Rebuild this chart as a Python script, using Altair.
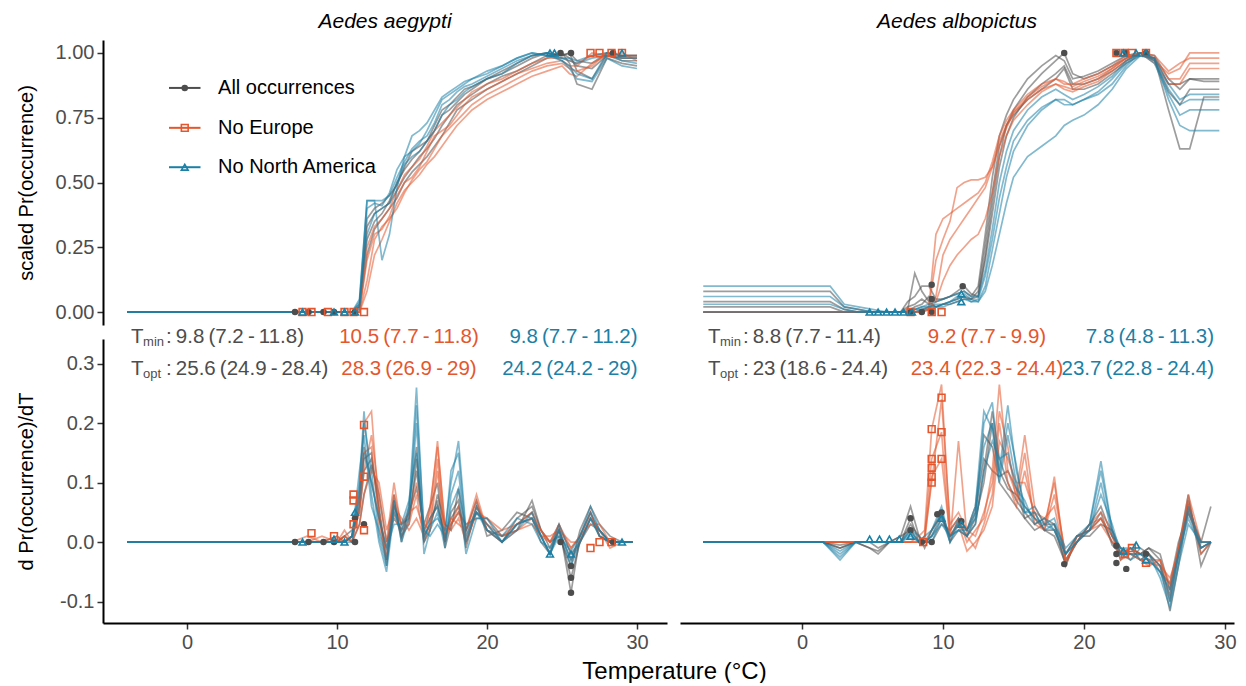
import altair as alt
import pandas as pd

FONT = "Liberation Sans"
GROUPS = ["All occurrences", "No Europe", "No North America"]
COLORS = ["#4D4D4D", "#E4572E", "#1B80A6"]
SHAPES = ["circle", "square", "triangle-up"]
SPECIES = ["Aedes aegypti", "Aedes albopictus"]

# ---------------- Aedes aegypti : scaled Pr(occurrence) ----------------
aeg_T = [-4, 7, 8, 9, 10, 10.5, 11, 11.5, 12, 12.5, 13, 13.5, 14, 14.5, 15, 15.5, 16, 16.5,
         17, 17.5, 18, 18.5, 19, 20, 21, 22, 23, 24, 25, 25.5, 26, 27, 28, 29, 30]
aeg_top_all = [
    [0, 0, 0, 0, 0, 0, 0, 0.02, 0.33, 0.38, 0.40, 0.42, 0.47, 0.52, 0.56, 0.60, 0.63, 0.67, 0.72, 0.76, 0.80, 0.82, 0.84, 0.88, 0.91, 0.93, 0.96, 0.99, 1.00, 0.98, 0.95, 0.94, 0.99, 0.98, 0.98],
    [0, 0, 0, 0, 0, 0, 0, 0.03, 0.28, 0.35, 0.38, 0.43, 0.50, 0.55, 0.59, 0.62, 0.66, 0.70, 0.76, 0.78, 0.81, 0.84, 0.86, 0.90, 0.92, 0.95, 0.98, 1.00, 0.99, 1.00, 0.93, 0.90, 0.99, 0.97, 0.97],
    [0, 0, 0, 0, 0, 0, 0, 0.01, 0.22, 0.32, 0.36, 0.40, 0.44, 0.50, 0.54, 0.57, 0.60, 0.64, 0.68, 0.73, 0.78, 0.80, 0.82, 0.86, 0.89, 0.92, 0.95, 0.98, 1.00, 0.96, 0.88, 0.86, 0.98, 0.96, 0.95],
    [0, 0, 0, 0, 0, 0, 0, 0.02, 0.36, 0.40, 0.42, 0.45, 0.49, 0.56, 0.62, 0.64, 0.66, 0.72, 0.78, 0.80, 0.83, 0.86, 0.87, 0.90, 0.93, 0.96, 0.99, 1.00, 0.99, 1.00, 0.97, 0.96, 1.00, 0.99, 0.99],
]
aeg_top_noeu = [
    [0, 0, 0, 0, 0, 0, 0, 0, 0.12, 0.28, 0.33, 0.36, 0.40, 0.46, 0.51, 0.55, 0.58, 0.63, 0.68, 0.71, 0.74, 0.77, 0.80, 0.84, 0.87, 0.90, 0.93, 0.95, 0.96, 0.94, 0.93, 0.95, 1.00, 0.99, 0.99],
    [0, 0, 0, 0, 0, 0, 0, 0, 0.20, 0.30, 0.32, 0.37, 0.45, 0.50, 0.52, 0.56, 0.62, 0.68, 0.70, 0.72, 0.76, 0.80, 0.83, 0.86, 0.89, 0.92, 0.94, 0.96, 0.97, 0.95, 0.95, 1.00, 0.99, 0.98, 0.98],
    [0, 0, 0, 0, 0, 0, 0, 0, 0.08, 0.22, 0.28, 0.35, 0.42, 0.47, 0.50, 0.53, 0.57, 0.60, 0.64, 0.68, 0.72, 0.75, 0.78, 0.82, 0.85, 0.88, 0.91, 0.93, 0.95, 0.92, 0.91, 0.96, 0.99, 1.00, 0.97],
    [0, 0, 0, 0, 0, 0, 0, 0.01, 0.25, 0.33, 0.36, 0.40, 0.47, 0.53, 0.56, 0.59, 0.64, 0.70, 0.73, 0.76, 0.79, 0.82, 0.85, 0.88, 0.90, 0.93, 0.96, 0.98, 0.98, 0.97, 0.96, 0.99, 1.00, 0.99, 0.99],
]
aeg_top_nona = [
    [0, 0, 0, 0, 0, 0, 0, 0.04, 0.43, 0.43, 0.43, 0.45, 0.52, 0.58, 0.63, 0.66, 0.68, 0.73, 0.80, 0.82, 0.85, 0.87, 0.88, 0.91, 0.94, 0.97, 0.99, 1.00, 0.98, 0.97, 0.96, 0.98, 0.99, 0.98, 0.98],
    [0, 0, 0, 0, 0, 0, 0, 0.03, 0.40, 0.42, 0.41, 0.46, 0.55, 0.60, 0.62, 0.65, 0.70, 0.76, 0.82, 0.84, 0.86, 0.88, 0.90, 0.93, 0.95, 0.98, 1.00, 0.99, 0.97, 0.95, 0.92, 0.90, 1.00, 0.97, 0.96],
    [0, 0, 0, 0, 0, 0, 0, 0.02, 0.30, 0.38, 0.40, 0.42, 0.50, 0.57, 0.60, 0.62, 0.66, 0.70, 0.76, 0.80, 0.82, 0.85, 0.87, 0.90, 0.92, 0.96, 0.99, 1.00, 0.97, 0.94, 0.90, 0.89, 0.98, 0.95, 0.94],
    [0, 0, 0, 0, 0, 0, 0, 0.05, 0.43, 0.43, 0.20, 0.30, 0.48, 0.60, 0.68, 0.70, 0.73, 0.78, 0.83, 0.85, 0.87, 0.89, 0.90, 0.92, 0.95, 0.98, 1.00, 0.99, 0.98, 0.98, 0.97, 0.99, 1.00, 0.99, 0.99],
]
aeg_top_pts_T = [[7.2, 8.1, 9.1, 9.8, 11.2, 24.9, 25.6, 28.4],
                 [7.7, 8.3, 9.4, 10.5, 11.1, 11.8, 26.9, 27.5, 28.3, 29.0],
                 [7.7, 9.8, 10.5, 11.2, 24.2, 24.5, 29.0]]
aeg_top_pts_v = [[0, 0, 0, 0, 0, 1, 1, 1],
                 [0, 0, 0, 0, 0, 0, 1, 1, 1, 1],
                 [0, 0, 0, 0, 1, 1, 1]]

# ---------------- Aedes aegypti : derivative ----------------
aeg_Td = [-4, 7, 8, 9, 10, 10.5, 11, 11.5, 11.8, 12.3, 12.8, 13.3, 13.8, 14.3, 14.8, 15.3, 15.8, 16.2, 16.7,
          17.2, 17.6, 18.1, 18.6, 19.3, 20, 21, 22, 23, 23.6, 24.2, 24.8, 25.6, 26.2, 26.9, 27.5, 28.2, 29, 29.7]
aeg_bot_all = [
    [0, 0, 0, 0, 0, 0.01, 0.02, 0.05, 0.12, 0.14, 0.06, -0.03, 0.06, 0.03, 0.04, 0.12, 0.02, 0.04, 0.06, 0.01, 0.04, 0.06, 0.0, 0.05, 0.03, 0.0, 0.04, 0.06, 0.02, -0.01, 0.02, -0.06, 0.0, 0.04, 0.02, 0.0, 0.0, 0.0],
    [0, 0, 0, 0, 0.01, 0.0, 0.01, 0.08, 0.16, 0.10, 0.04, -0.01, 0.08, 0.0, 0.06, 0.16, 0.0, 0.02, 0.08, 0.03, 0.02, 0.09, 0.02, 0.07, 0.01, 0.02, 0.05, 0.04, 0.0, -0.02, 0.03, -0.085, 0.01, 0.05, 0.01, 0.0, 0.0, 0.0],
    [0, 0, 0, 0, 0, 0.01, 0.0, 0.03, 0.08, 0.13, 0.08, 0.0, 0.04, 0.02, 0.05, 0.09, 0.03, 0.06, 0.1, -0.01, 0.03, 0.05, 0.03, 0.04, 0.04, 0.01, 0.02, 0.07, 0.02, 0.0, 0.01, -0.04, 0.02, 0.06, 0.03, 0.01, 0.0, 0.0],
    [0, 0, 0, 0, 0, 0, 0.01, 0.06, 0.14, 0.15, 0.05, -0.04, 0.07, 0.01, 0.03, 0.14, 0.01, 0.03, 0.07, 0.0, 0.05, 0.07, -0.01, 0.06, 0.02, 0.0, 0.03, 0.05, 0.01, -0.02, 0.02, -0.03, 0.0, 0.03, 0.02, 0.0, 0.0, 0.0],
]
aeg_bot_noeu = [
    [0, 0, 0, 0.01, 0.0, 0.02, 0.0, 0.08, 0.2, 0.22, 0.05, -0.02, 0.08, 0.03, 0.05, 0.06, 0.02, 0.05, 0.17, 0.02, 0.03, 0.05, 0.01, 0.06, 0.03, 0.01, 0.03, 0.04, 0.02, 0.0, 0.03, -0.01, 0.01, 0.05, 0.01, 0.0, 0.0, 0.0],
    [0, 0, 0, 0, 0.01, 0.0, 0.01, 0.05, 0.12, 0.18, 0.08, 0.0, 0.1, 0.02, 0.03, 0.08, 0.0, 0.03, 0.14, 0.0, 0.04, 0.03, 0.02, 0.08, 0.02, 0.0, 0.02, 0.03, 0.01, 0.01, 0.02, 0.0, 0.0, 0.04, 0.02, -0.01, 0.0, 0.0],
    [0, 0, 0.01, 0, 0, 0.01, 0.0, 0.03, 0.08, 0.12, 0.1, 0.02, 0.06, 0.04, 0.02, 0.04, 0.01, 0.06, 0.16, 0.03, 0.02, 0.04, 0.0, 0.05, 0.04, 0.02, 0.03, 0.05, 0.02, 0.0, 0.02, -0.01, 0.01, 0.03, 0.03, 0.0, 0.0, 0.0],
    [0, 0, 0, 0, 0, 0.01, 0.0, 0.06, 0.15, 0.16, 0.03, -0.03, 0.05, 0.01, 0.04, 0.1, 0.03, 0.02, 0.12, 0.01, 0.03, 0.06, 0.02, 0.07, 0.02, 0.01, 0.02, 0.04, 0.01, 0.0, 0.03, -0.02, 0.0, 0.05, 0.01, 0.0, 0.0, 0.0],
]
aeg_bot_nona = [
    [0, 0, 0, 0, 0, 0, 0.01, 0.1, 0.22, 0.08, 0.0, -0.05, 0.05, 0.02, 0.06, 0.26, 0.01, 0.03, 0.04, 0.02, 0.1, 0.17, 0.02, 0.05, 0.03, 0.0, 0.03, 0.04, 0.01, -0.02, 0.02, -0.03, 0.01, 0.06, 0.02, 0.0, 0.0, 0.0],
    [0, 0, 0, 0, 0, 0, 0.01, 0.12, 0.18, 0.06, 0.02, -0.03, 0.07, 0.0, 0.04, 0.2, -0.02, 0.02, 0.05, -0.01, 0.08, 0.12, 0.0, 0.06, 0.02, 0.01, 0.04, 0.03, 0.0, -0.01, 0.03, -0.02, 0.0, 0.04, 0.01, 0.0, 0.0, 0.0],
    [0, 0, 0, 0, 0, 0, 0.0, 0.07, 0.15, 0.1, 0.04, -0.01, 0.03, 0.03, 0.07, 0.15, 0.0, 0.04, 0.06, 0.0, 0.06, 0.09, -0.02, 0.04, 0.04, 0.0, 0.02, 0.05, 0.01, -0.02, 0.01, -0.015, 0.01, 0.05, 0.02, 0.0, 0.0, 0.0],
    [0, 0, 0, 0, 0, 0, 0.01, 0.09, 0.2, 0.12, 0.01, -0.04, 0.06, 0.01, 0.05, 0.23, 0.02, 0.01, 0.03, 0.01, 0.12, 0.15, 0.01, 0.05, 0.02, 0.0, 0.03, 0.04, 0.01, -0.02, 0.02, -0.04, 0.0, 0.04, 0.01, 0.0, 0.0, 0.0],
]
aeg_bot_pts_T = [[7.2, 8.1, 9.1, 9.8, 11.2, 11.2, 11.8, 24.9, 25.6, 25.6, 25.6, 28.4],
                 [8.3, 9.8, 11.1, 11.1, 11.1, 11.8, 11.8, 11.8, 26.9, 27.5, 28.3],
                 [7.7, 9.8, 10.5, 11.2, 24.2, 25.6, 29.0]]
aeg_bot_pts_v = [[0, 0, 0, 0, 0.0, 0.04, 0.03, 0.0, -0.04, -0.06, -0.085, 0.0],
                 [0.015, 0.01, 0.08, 0.07, 0.03, 0.197, 0.11, 0.02, -0.01, 0.0, 0.0],
                 [0, 0.005, 0.0, 0.05, -0.02, -0.02, 0.0]]

# ---------------- Aedes albopictus : scaled Pr(occurrence) ----------------
alb_T = [-7, 2, 3, 4, 5, 6, 7, 7.5, 8, 8.5, 9, 9.5, 10, 10.5, 11, 11.5, 12, 12.5, 13, 13.5, 14, 14.5,
         15, 16, 17, 18, 18.6, 19.2, 20, 21, 22, 23, 24, 25, 26, 26.8, 27.5, 28.5, 29.6]
alb_top_all = [
    [0.08, 0.08, 0.02, 0.01, 0.0, 0.0, 0.0, 0.04, 0.06, 0.10, 0.10, 0.05, 0.05, 0.06, 0.08, 0.10, 0.07, 0.06, 0.22, 0.42, 0.60, 0.72, 0.78, 0.86, 0.92, 0.97, 1.00, 0.92, 0.90, 0.92, 0.95, 0.98, 1.00, 0.97, 0.85, 0.80, 0.86, 0.86, 0.86],
    [0.0, 0.0, 0.0, 0.0, 0.0, 0.0, 0.0, 0.02, 0.03, 0.05, 0.03, 0.02, 0.03, 0.04, 0.05, 0.06, 0.05, 0.06, 0.20, 0.38, 0.56, 0.68, 0.75, 0.83, 0.88, 0.92, 0.95, 0.88, 0.88, 0.90, 0.93, 0.97, 1.00, 0.98, 0.88, 0.88, 0.90, 0.89, 0.89],
    [0.04, 0.04, 0.01, 0.0, 0.0, 0.0, 0.0, 0.01, 0.15, 0.08, 0.04, 0.02, 0.03, 0.03, 0.04, 0.05, 0.05, 0.08, 0.26, 0.46, 0.64, 0.72, 0.76, 0.82, 0.86, 0.90, 0.94, 0.86, 0.86, 0.88, 0.92, 0.96, 0.99, 0.98, 0.78, 0.63, 0.63, 0.83, 0.83],
    [0.02, 0.02, 0.0, 0.0, 0.0, 0.0, 0.0, 0.0, 0.02, 0.03, 0.06, 0.04, 0.05, 0.06, 0.07, 0.08, 0.06, 0.10, 0.30, 0.52, 0.68, 0.76, 0.82, 0.90, 0.95, 0.99, 0.97, 0.90, 0.91, 0.93, 0.96, 0.99, 1.00, 0.99, 0.90, 0.86, 0.90, 0.90, 0.90],
]
alb_top_noeu = [
    [0, 0, 0, 0, 0, 0, 0, 0.0, 0.0, 0.01, 0.02, 0.30, 0.36, 0.38, 0.40, 0.42, 0.44, 0.46, 0.50, 0.58, 0.68, 0.74, 0.78, 0.84, 0.88, 0.90, 0.88, 0.88, 0.90, 0.92, 0.95, 0.99, 1.00, 0.97, 0.92, 0.94, 1.00, 1.00, 1.00],
    [0, 0, 0, 0, 0, 0, 0, 0.0, 0.0, 0.0, 0.01, 0.06, 0.22, 0.28, 0.32, 0.36, 0.40, 0.44, 0.48, 0.56, 0.66, 0.72, 0.77, 0.82, 0.86, 0.88, 0.87, 0.86, 0.88, 0.90, 0.94, 0.98, 1.00, 0.98, 0.90, 0.90, 0.96, 0.96, 0.96],
    [0, 0, 0, 0, 0, 0, 0, 0.0, 0.0, 0.0, 0.01, 0.04, 0.12, 0.18, 0.22, 0.25, 0.28, 0.30, 0.36, 0.46, 0.60, 0.68, 0.74, 0.80, 0.85, 0.88, 0.86, 0.85, 0.87, 0.89, 0.93, 0.97, 1.00, 0.96, 0.88, 0.88, 0.94, 0.94, 0.94],
    [0, 0, 0, 0, 0, 0, 0, 0.0, 0.0, 0.0, 0.02, 0.20, 0.28, 0.35, 0.48, 0.50, 0.51, 0.51, 0.52, 0.56, 0.64, 0.71, 0.77, 0.83, 0.87, 0.90, 0.89, 0.87, 0.89, 0.91, 0.94, 0.98, 1.00, 0.99, 0.93, 0.96, 0.98, 0.98, 0.98],
]
alb_top_nona = [
    [0.10, 0.10, 0.03, 0.02, 0.01, 0.0, 0.0, 0.0, 0.01, 0.02, 0.02, 0.03, 0.03, 0.04, 0.06, 0.07, 0.05, 0.04, 0.10, 0.24, 0.38, 0.52, 0.62, 0.72, 0.78, 0.82, 0.82, 0.80, 0.82, 0.85, 0.90, 0.96, 1.00, 0.96, 0.84, 0.76, 0.78, 0.78, 0.78],
    [0.06, 0.06, 0.02, 0.01, 0.0, 0.0, 0.0, 0.0, 0.01, 0.01, 0.02, 0.02, 0.03, 0.04, 0.05, 0.06, 0.04, 0.05, 0.14, 0.28, 0.44, 0.56, 0.66, 0.74, 0.79, 0.82, 0.80, 0.80, 0.82, 0.84, 0.88, 0.95, 1.00, 0.97, 0.86, 0.80, 0.82, 0.82, 0.82],
    [0.0, 0.0, 0.0, 0.0, 0.0, 0.0, 0.0, 0.0, 0.0, 0.01, 0.01, 0.02, 0.02, 0.03, 0.04, 0.05, 0.04, 0.04, 0.08, 0.18, 0.30, 0.42, 0.52, 0.60, 0.64, 0.68, 0.72, 0.74, 0.76, 0.80, 0.86, 0.94, 0.99, 0.98, 0.82, 0.72, 0.70, 0.70, 0.70],
    [0.03, 0.03, 0.01, 0.0, 0.0, 0.0, 0.0, 0.0, 0.01, 0.02, 0.03, 0.04, 0.05, 0.06, 0.07, 0.08, 0.06, 0.06, 0.16, 0.32, 0.50, 0.62, 0.70, 0.78, 0.83, 0.86, 0.84, 0.82, 0.84, 0.87, 0.91, 0.97, 1.00, 0.98, 0.88, 0.82, 0.84, 0.84, 0.84],
]
alb_top_pts_T = [[7.7, 8.5, 9.2, 9.2, 9.2, 11.4, 18.6, 22.3, 23.0, 24.4],
                 [7.7, 9.2, 9.9, 22.3, 22.9, 23.4, 24.4],
                 [4.8, 5.4, 6.0, 6.6, 7.2, 7.8, 11.3, 11.3, 22.8, 23.7, 24.4]]
alb_top_pts_v = [[0, 0, 0, 0.05, 0.105, 0.10, 1.0, 1.0, 1.0, 1.0],
                 [0, 0, 0, 1, 1, 1, 1],
                 [0, 0, 0, 0, 0, 0, 0.04, 0.07, 1, 1, 1]]

# ---------------- Aedes albopictus : derivative ----------------
alb_Td = [-7, 1.5, 2.7, 3.8, 4.8, 5.4, 6.2, 7, 7.7, 8.3, 8.7, 9.2, 9.9, 10.5, 11.1, 11.7, 12.3, 12.9, 13.5, 14.0,
          14.6, 15.2, 15.8, 16.5, 17.2, 17.9, 18.7, 19.5, 20.4, 21.2, 22.0, 22.6, 23.3, 24.0, 24.6, 25.4, 26.1,
          26.7, 27.4, 28.3, 29.0]
alb_bot_all = [
    [0, 0, -0.01, 0, -0.01, -0.02, 0, 0.01, 0.06, 0.01, -0.01, 0.02, 0.05, 0.0, 0.02, 0.01, 0.03, 0.12, 0.22, 0.14, 0.1, 0.07, 0.05, 0.03, 0.04, 0.03, -0.04, 0.01, 0.02, 0.04, 0.0, -0.02, -0.01, -0.02, -0.01, -0.03, -0.1, -0.02, 0.07, -0.02, 0.0],
    [0, 0, -0.005, 0, 0, -0.01, 0, 0.0, 0.04, 0.0, 0.0, 0.01, 0.04, 0.01, 0.03, 0.02, 0.06, 0.18, 0.16, 0.1, 0.08, 0.06, 0.04, 0.05, 0.02, 0.02, -0.03, 0.0, 0.03, 0.06, 0.01, -0.01, -0.02, -0.03, -0.02, -0.04, -0.116, -0.04, 0.06, 0.0, 0.06],
    [0, 0, -0.01, 0, -0.01, -0.015, 0, 0.01, 0.02, 0.0, 0.0, 0.0, 0.03, 0.02, 0.04, 0.02, 0.05, 0.14, 0.12, 0.11, 0.12, 0.09, 0.04, 0.02, 0.03, 0.03, -0.02, 0.01, 0.01, 0.03, 0.02, -0.03, -0.01, -0.02, -0.01, -0.02, -0.08, -0.01, 0.08, -0.04, 0.0],
    [0, 0, 0, 0, 0, 0, 0, 0.0, 0.03, 0.01, 0.0, 0.02, 0.045, 0.01, 0.035, 0.01, 0.04, 0.1, 0.2, 0.12, 0.09, 0.08, 0.06, 0.04, 0.02, 0.01, -0.035, 0.0, 0.02, 0.05, -0.005, -0.02, -0.03, -0.01, -0.02, -0.05, -0.07, 0.0, 0.05, -0.01, 0.0],
]
alb_bot_noeu = [
    [0, 0, 0, 0, 0, 0, 0, 0, 0.0, 0.01, 0.02, 0.19, 0.265, 0.02, 0.04, 0.0, 0.02, 0.04, 0.12, 0.265, 0.12, 0.08, 0.18, 0.06, 0.03, 0.1, -0.03, 0.0, 0.03, 0.04, 0.01, -0.02, -0.01, -0.03, -0.035, -0.04, -0.09, -0.02, 0.08, 0.0, 0.0],
    [0, 0, 0, 0, 0, 0, 0, 0, 0.0, 0.0, 0.01, 0.14, 0.185, 0.0, 0.17, 0.01, -0.01, 0.03, 0.08, 0.2, 0.1, 0.06, 0.12, 0.04, 0.02, 0.08, -0.02, 0.01, 0.02, 0.03, 0.0, -0.01, -0.02, -0.02, -0.03, -0.03, -0.07, -0.01, 0.06, -0.01, 0.0],
    [0, 0, 0, 0, 0, 0, 0, 0, 0.0, 0.0, 0.0, 0.11, 0.14, 0.01, 0.03, -0.015, 0.0, 0.02, 0.06, 0.17, 0.14, 0.1, 0.1, 0.05, 0.04, 0.06, -0.03, 0.0, 0.03, 0.05, 0.02, -0.02, -0.01, -0.02, -0.02, -0.04, -0.06, -0.02, 0.05, 0.0, 0.0],
    [0, 0, 0, 0, 0, 0, 0, 0, 0.0, 0.0, 0.01, 0.1, 0.24, 0.03, 0.05, 0.02, 0.01, 0.05, 0.1, 0.22, 0.16, 0.07, 0.15, 0.03, 0.02, 0.11, -0.04, 0.01, 0.02, 0.04, 0.01, -0.03, -0.02, -0.03, -0.04, -0.03, -0.08, -0.01, 0.07, -0.02, 0.0],
]
alb_bot_nona = [
    [0, 0, -0.03, 0, 0, 0, 0, 0.0, 0.02, 0.01, 0.0, 0.01, 0.05, 0.01, 0.02, 0.02, 0.04, 0.2, 0.235, 0.12, 0.23, 0.12, 0.06, 0.04, 0.03, 0.02, -0.02, 0.0, 0.03, 0.136, 0.02, -0.02, -0.02, -0.02, -0.03, -0.05, -0.1, -0.03, 0.05, 0.0, 0.0],
    [0, 0, -0.02, 0, 0, 0, 0, 0.0, 0.01, 0.0, 0.0, 0.0, 0.04, 0.0, 0.03, 0.01, 0.05, 0.16, 0.2, 0.1, 0.18, 0.1, 0.05, 0.05, 0.02, 0.03, -0.01, 0.01, 0.02, 0.1, 0.01, -0.01, -0.01, -0.03, -0.02, -0.04, -0.09, -0.02, 0.04, -0.01, 0.0],
    [0, 0, -0.025, 0, 0, 0, 0, 0.0, 0.015, 0.0, 0.0, 0.01, 0.03, 0.01, 0.02, 0.01, 0.03, 0.12, 0.17, 0.14, 0.15, 0.09, 0.07, 0.03, 0.04, 0.02, -0.02, 0.0, 0.02, 0.08, 0.03, -0.02, -0.02, -0.02, -0.02, -0.06, -0.11, -0.04, 0.03, 0.0, 0.0],
    [0, 0, -0.015, 0, 0, 0, 0, 0.0, 0.02, 0.0, 0.01, 0.02, 0.06, 0.0, 0.04, 0.02, 0.06, 0.22, 0.19, 0.11, 0.2, 0.13, 0.05, 0.06, 0.03, 0.04, -0.02, 0.01, 0.03, 0.12, 0.02, -0.01, -0.03, -0.02, -0.03, -0.05, -0.08, -0.02, 0.06, -0.01, 0.0],
]
alb_bot_pts_T = [[7.7, 7.7, 8.5, 9.2, 9.6, 9.9, 11.3, 18.6, 22.3, 22.3, 22.3, 23.0, 24.4],
                 [8.6, 9.2, 9.2, 9.2, 9.2, 9.2, 9.9, 9.9, 9.9, 22.9, 23.4, 24.4],
                 [4.8, 5.5, 6.2, 6.9, 7.7, 9.9, 11.3, 22.8, 23.7, 24.4]]
alb_bot_pts_v = [[0.04, 0.02, 0.0, 0.0, 0.047, 0.05, 0.035, -0.037, -0.006, -0.02, -0.035, -0.045, -0.02],
                 [0.0, 0.19, 0.14, 0.125, 0.11, 0.10, 0.243, 0.185, 0.14, -0.02, -0.01, -0.035],
                 [0.005, 0.005, 0.005, 0.005, 0.01, 0.04, 0.03, -0.015, -0.005, -0.03]]

# ---------------- annotation texts ----------------
SUBS = ["min", "opt"]
TS = "\u2009"
aeg_tmin_text = [f":{TS}9.8{TS}(7.2{TS}-{TS}11.8)", f"10.5{TS}(7.7{TS}-{TS}11.8)", f"9.8{TS}(7.7{TS}-{TS}11.2)"]
aeg_topt_text = [f":{TS}25.6{TS}(24.9{TS}-{TS}28.4)", f"28.3{TS}(26.9{TS}-{TS}29)", f"24.2{TS}(24.2{TS}-{TS}29)"]
alb_tmin_text = [f":{TS}8.8{TS}(7.7{TS}-{TS}11.4)", f"9.2{TS}(7.7{TS}-{TS}9.9)", f"7.8{TS}(4.8{TS}-{TS}11.3)"]
alb_topt_text = [f":{TS}23{TS}(18.6{TS}-{TS}24.4)", f"23.4{TS}(22.3{TS}-{TS}24.4)", f"23.7{TS}(22.8{TS}-{TS}24.4)"]
ANN_Y = [0.335, 0.281]                 # baselines of the T_min and T_opt rows
aeg_ann_x = [-3.73, 14.8, 30.04]       # grey left / orange centre / blue right anchors
alb_ann_x = [-6.67, 13.12, 29.22]

# legend rows (drawn inside the top-left panel)
leg_y = [0.865, 0.711, 0.559]
leg_x = [-1.2, 0.9, -0.15, 2.07]       # line start, line end, symbol, label


def lines_df(T, sets):
    rows = []
    for g, lines in zip(GROUPS, sets):
        for i, ys in enumerate(lines):
            assert len(ys) == len(T), (g, i, len(ys), len(T))
            for t, v in zip(T, ys):
                rows.append({"T": t, "v": v, "group": g, "line": f"{g}|{i}"})
    return pd.DataFrame(rows)


def pts_df(Ts, Vs):
    rows = []
    for g, ts, vs in zip(GROUPS, Ts, Vs):
        assert len(ts) == len(vs)
        for t, v in zip(ts, vs):
            rows.append({"T": t, "v": v, "group": g})
    return pd.DataFrame(rows)


color_enc = alt.Color("group:N", scale=alt.Scale(domain=GROUPS, range=COLORS), legend=None)
shape_enc = alt.Shape("group:N", scale=alt.Scale(domain=GROUPS, range=SHAPES), legend=None)

AX = dict(labelFont=FONT, labelFontSize=20, labelColor="#4D4D4D", tickSize=6, tickWidth=1.5,
          tickColor="#333333", domainColor="black", domainWidth=2, grid=False, labelPadding=3,
          titleFont=FONT, titleFontWeight="normal", titleColor="black")


def panel(ldf, pdf, xdom, ydom, w, h, xaxis, yaxis, extra=None):
    X = alt.X("T:Q", scale=alt.Scale(domain=xdom, nice=False, zero=False), axis=xaxis)
    Y = alt.Y("v:Q", scale=alt.Scale(domain=ydom, nice=False, zero=False), axis=yaxis)
    lines = alt.Chart(ldf).mark_line(strokeWidth=1.7, opacity=0.55, clip=True).encode(
        x=X, y=Y, color=color_enc, detail="line:N")
    p_fill = alt.Chart(pdf).transform_filter(alt.datum.group == GROUPS[0]).mark_point(
        filled=True, size=42, opacity=1).encode(x=X, y=Y, color=color_enc, shape=shape_enc)
    p_open = alt.Chart(pdf).transform_filter(alt.datum.group != GROUPS[0]).mark_point(
        filled=False, size=46, strokeWidth=1.6, opacity=1).encode(x=X, y=Y, color=color_enc, shape=shape_enc)
    layers = [lines, p_fill, p_open]
    if extra:
        layers += extra(X, Y)
    return alt.layer(*layers).properties(width=w, height=h)


def legend_layers(X, Y):
    ldf = pd.DataFrame({"group": GROUPS, "v": leg_y, "T": [leg_x[0]] * 3, "T2": [leg_x[1]] * 3,
                        "Tp": [leg_x[2]] * 3, "Tt": [leg_x[3]] * 3})
    rule = alt.Chart(ldf).mark_rule(strokeWidth=2).encode(x=X, x2="T2:Q", y=Y, color=color_enc)
    pf = alt.Chart(ldf).transform_filter(alt.datum.group == GROUPS[0]).mark_point(
        filled=True, size=42, opacity=1).encode(x=alt.X("Tp:Q"), y=Y, color=color_enc, shape=shape_enc)
    po = alt.Chart(ldf).transform_filter(alt.datum.group != GROUPS[0]).mark_point(
        filled=False, size=46, strokeWidth=1.6, opacity=1).encode(x=alt.X("Tp:Q"), y=Y, color=color_enc, shape=shape_enc)
    txt = alt.Chart(ldf).mark_text(align="left", baseline="middle", fontSize=20, font=FONT,
                                   color="black").encode(x=alt.X("Tt:Q"), y=Y, text="group:N")
    return [rule, pf, po, txt]


def ann_factory(ann_x, tmin_text, topt_text):
    def make(X, Y):
        adf = pd.DataFrame({"T": [ann_x[0]] * 2, "v": ANN_Y, "sub": SUBS,
                            "rest": [tmin_text[0], topt_text[0]]})
        odf = pd.DataFrame({"T": [ann_x[1]] * 2, "v": ANN_Y, "txt": [tmin_text[1], topt_text[1]]})
        bdf = pd.DataFrame({"T": [ann_x[2]] * 2, "v": ANN_Y, "txt": [tmin_text[2], topt_text[2]]})
        base = dict(baseline="alphabetic", font=FONT)
        t_big = alt.Chart(adf).mark_text(align="left", fontSize=20.5, color=COLORS[0], **base).encode(
            x=X, y=Y, text=alt.value("T"))
        t_sub = alt.Chart(adf).mark_text(align="left", fontSize=13, dx=12, dy=3, color=COLORS[0], **base).encode(
            x=X, y=Y, text="sub:N")
        t_rest = alt.Chart(adf).mark_text(align="left", fontSize=20.5, dx=35, color=COLORS[0], **base).encode(
            x=X, y=Y, text="rest:N")
        t_or = alt.Chart(odf).mark_text(align="center", fontSize=20.5, color=COLORS[1], **base).encode(
            x=X, y=Y, text="txt:N")
        t_bl = alt.Chart(bdf).mark_text(align="right", fontSize=20.5, color=COLORS[2], **base).encode(
            x=X, y=Y, text="txt:N")
        return [t_big, t_sub, t_rest, t_or, t_bl]
    return make


AEG_X = [-5.6, 32.0]
ALB_X = [-8.65, 30.64]
TOP_Y = [-0.05, 1.05]
BOT_Y = [-0.136, 0.3415]
W_L, W_R, H_T, H_B = 564, 554, 285, 284

y_top_axis = alt.Axis(values=[0, 0.25, 0.5, 0.75, 1], format=".2f", title="scaled Pr(occurrence)",
                      titleFontSize=20, titleX=-67, titleY=H_T / 2, **AX)
y_bot_axis = alt.Axis(values=[-0.1, 0, 0.1, 0.2, 0.3],
                      labelExpr="datum.value < 0 ? '-' + format(-datum.value, '.1f') : format(datum.value, '.1f')",
                      title="d Pr(occurrence)/dT", titleFontSize=20, titleX=-67, titleY=H_B / 2, **AX)
x_bl_axis = alt.Axis(values=[0, 10, 20, 30], format="d", title="Temperature (°C)", titleFontSize=24,
                     titleX=571, titleY=55, titleBaseline="alphabetic", titleAlign="center", **AX)
x_br_axis = alt.Axis(values=[0, 10, 20, 30], format="d", title="", **AX)


def facet_title(s):
    return alt.TitleParams(s, font=FONT, fontSize=21, fontStyle="italic", fontWeight="normal",
                           color="black", anchor="middle", offset=8)


tl = panel(lines_df(aeg_T, [aeg_top_all, aeg_top_noeu, aeg_top_nona]), pts_df(aeg_top_pts_T, aeg_top_pts_v),
           AEG_X, TOP_Y, W_L, H_T, None, y_top_axis, legend_layers).properties(title=facet_title(SPECIES[0]))
tr = panel(lines_df(alb_T, [alb_top_all, alb_top_noeu, alb_top_nona]), pts_df(alb_top_pts_T, alb_top_pts_v),
           ALB_X, TOP_Y, W_R, H_T, None, None).properties(title=facet_title(SPECIES[1]))
bl = panel(lines_df(aeg_Td, [aeg_bot_all, aeg_bot_noeu, aeg_bot_nona]), pts_df(aeg_bot_pts_T, aeg_bot_pts_v),
           AEG_X, BOT_Y, W_L, H_B, x_bl_axis, y_bot_axis, ann_factory(aeg_ann_x, aeg_tmin_text, aeg_topt_text))
br = panel(lines_df(alb_Td, [alb_bot_all, alb_bot_noeu, alb_bot_nona]), pts_df(alb_bot_pts_T, alb_bot_pts_v),
           ALB_X, BOT_Y, W_R, H_B, x_br_axis, None, ann_factory(alb_ann_x, alb_tmin_text, alb_topt_text))

chart = alt.concat(tl, tr, bl, br, columns=2, spacing={"row": 14, "column": 13}, bounds="flush").properties(
    padding={"left": 7, "top": 3, "right": 0, "bottom": 0}
).configure(font=FONT).configure_view(strokeWidth=0)

chart.save("out.html", embed_options={"renderer": "svg", "actions": False})
